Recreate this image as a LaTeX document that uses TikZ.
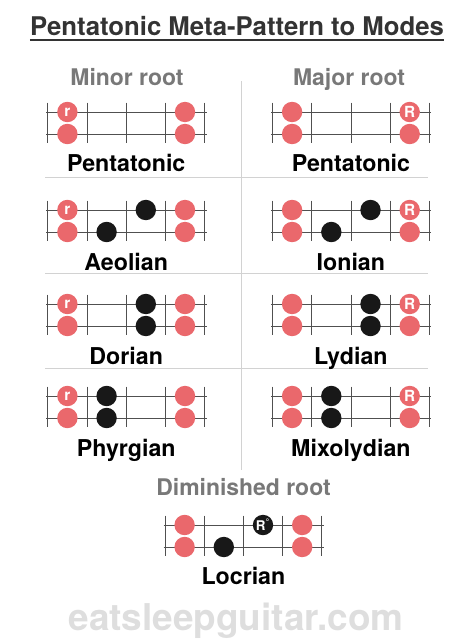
\documentclass[tikz,border=0pt]{standalone}
\usepackage{fontspec}
\setmainfont{TeX Gyre Heros}
\usetikzlibrary{calc}
\definecolor{dotpink}{RGB}{234,104,108}
\definecolor{dotblack}{RGB}{24,24,24}
\definecolor{fretgray}{RGB}{80,80,80}
\definecolor{rulegray}{RGB}{210,210,210}
\definecolor{headgray}{RGB}{120,120,120}
\definecolor{titlegray}{RGB}{51,51,51}
\definecolor{markgray}{RGB}{222,222,222}
\begin{document}
\begin{tikzpicture}[x=0.75pt,y=0.75pt,yscale=-1,xscale=1,
  fretline/.style={draw=fretgray,line width=0.6pt},
  rulesep/.style={draw=rulegray,line width=0.75pt},
  pk/.style={circle,fill=dotpink,inner sep=0pt,minimum size=15.3pt,text=white,font=\bfseries\fontsize{11.5}{11}\selectfont},
  bk/.style={circle,fill=dotblack,inner sep=0pt,minimum size=15.3pt,text=white,font=\bfseries\fontsize{10}{10}\selectfont},
  hd/.style={anchor=base,inner sep=0pt,text=headgray,font=\bfseries\fontsize{17.2}{20}\selectfont},
  nm/.style={anchor=base,inner sep=0pt,text=black,font=\bfseries\fontsize{17.4}{20}\selectfont}]
\useasboundingbox (0,0) rectangle (474,643);
\node[anchor=base,inner sep=0pt,text=titlegray,font=\bfseries\fontsize{19.3}{22}\selectfont] (title) at (237,35.5) {Pentatonic Meta-Pattern to Modes};
\draw[titlegray,line width=1.1pt] ($(title.base west)+(0,4.5)$) -- ($(title.base east)+(0,4.5)$);
\node[hd] (minor) at (127,85) {Minor root};
\node[hd] (major) at (349,85) {Major root};
\node[hd] (dimin) at (243.5,495) {Diminished root};
\draw[rulesep] (241,81) -- (241,470);
\draw[rulesep] (45,177) -- (428,177);
\draw[rulesep] (45,273) -- (428,273);
\draw[rulesep] (45,368) -- (428,368);
\foreach \bx/\by/\id/\lt/\rt in {47.8/112/ma/r/{},47.8/210/mb/r/{},47.8/304/mc/r/{},47.8/396/md/r/{},
  272.5/112/ja/{}/R,272.5/210/jb/{}/R,272.5/304/jc/{}/R,272.5/396/jd/{}/R,165/525/da/{}/{}} {
  \draw[fretline] (\bx-1.5,\by) -- (\bx+158.8,\by) (\bx-1.5,\by+22) -- (\bx+158.8,\by+22);
  \foreach \k in {0,...,4}
    \draw[fretline] (\bx+39.2*\k,\by-9.5) -- (\bx+39.2*\k,\by+31);
  \node[pk] (\id-1) at (\bx+19.6,\by) {\lt};
  \node[pk] (\id-2) at (\bx+137.2,\by) {\rt};
  \node[pk] (\id-3) at (\bx+19.6,\by+22) {};
  \node[pk] (\id-4) at (\bx+137.2,\by+22) {};
}
\node[bk] (mb-5) at (145.8,210) {};
\node[bk] (mb-6) at (106.6,232) {};
\node[bk] (mc-5) at (145.8,304) {};
\node[bk] (mc-6) at (145.8,326) {};
\node[bk] (md-5) at (106.6,396) {};
\node[bk] (md-6) at (106.6,418) {};
\node[bk] (jb-5) at (370.5,210) {};
\node[bk] (jb-6) at (331.3,232) {};
\node[bk] (jc-5) at (370.5,304) {};
\node[bk] (jc-6) at (370.5,326) {};
\node[bk] (jd-5) at (331.3,396) {};
\node[bk] (jd-6) at (331.3,418) {};
\node[bk] (da-5) at (263,525) {R\textsuperscript{°}};
\node[bk] (da-6) at (223.8,547) {};
\node[nm] (pentaminor) at (126.2,171.5) {Pentatonic};
\node[nm] (aeolian) at (126.2,270) {Aeolian};
\node[nm] (dorian) at (126.2,364) {Dorian};
\node[nm] (phrygian) at (126.2,456) {Phyrgian};
\node[nm] (pentamajor) at (350.9,171.5) {Pentatonic};
\node[nm] (ionian) at (350.9,270) {Ionian};
\node[nm] (lydian) at (350.9,364) {Lydian};
\node[nm] (mixolydian) at (350.9,456) {Mixolydian};
\node[nm] (locrian) at (243.4,584.5) {Locrian};
\node[anchor=base,inner sep=0pt,text=markgray,font=\bfseries\fontsize{27.7}{30}\selectfont] (site) at (236,630) {eatsleepguitar.com};
\end{tikzpicture}
\end{document}
